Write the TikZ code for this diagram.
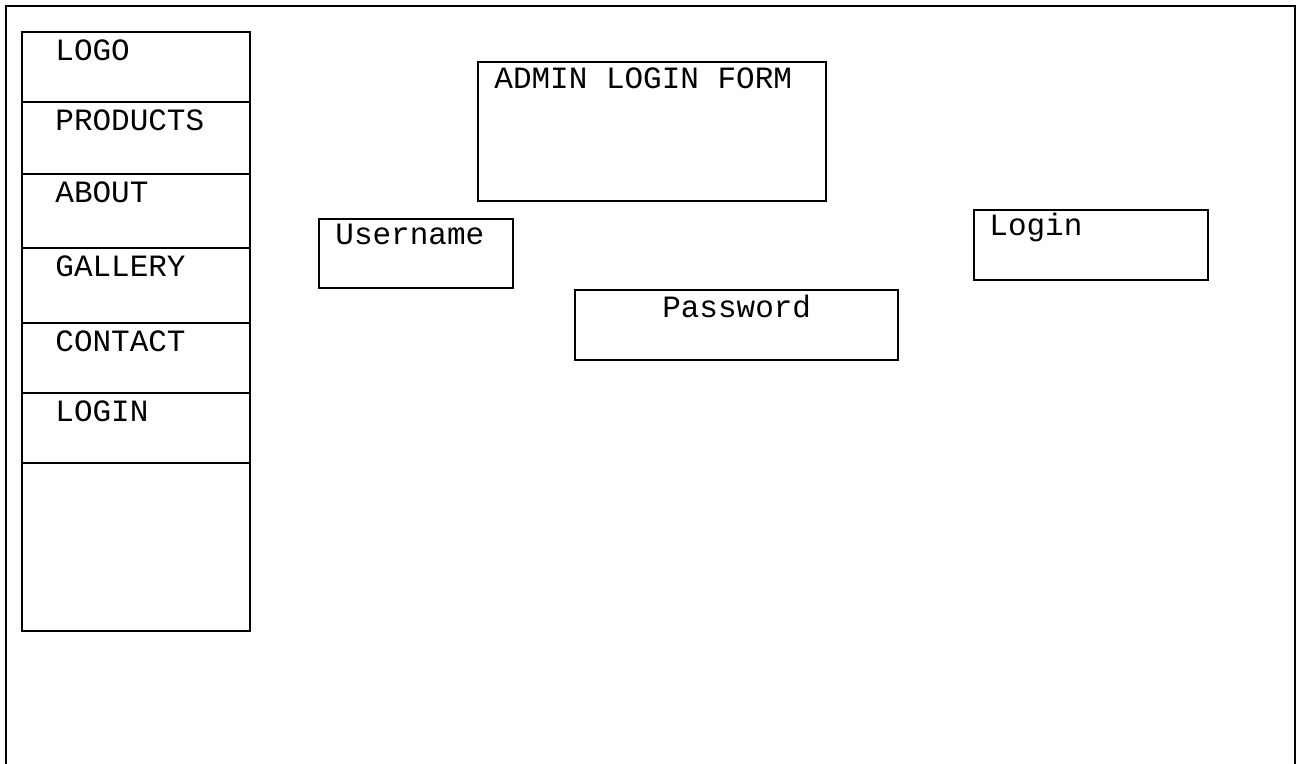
\documentclass[tikz,border=0pt]{standalone}
\usepackage{fontspec}
\setmainfont{Liberation Mono}
\usepackage{tikz}
\usetikzlibrary{positioning}

\begin{document}
\begin{tikzpicture}[
  x=0.5pt, y=-0.5pt,
  font=\fontsize{15.5}{18}\selectfont,
  frame/.style={line width=1.2pt},
  box/.style={draw, rectangle, anchor=north west, inner sep=0pt, line width=1.2pt},
  menu/.style={box, minimum width=114pt},
  lbl/.style={anchor=base west, inner sep=0pt}
]
\useasboundingbox (0,0) rectangle (1298,764);

% ── Outer page frame (open at the bottom) ──
\draw[frame] (6,764) -- (6,6) -- (1295,6) -- (1295,764);

% ── Left: navigation menu ──
\node[menu, minimum height=35pt]   (logo)     at (21,31)  {};
\node[menu, minimum height=36pt]   (products) at (21,101) {};
\node[menu, minimum height=37pt]   (about)    at (21,173) {};
\node[menu, minimum height=37.5pt] (gallery)  at (21,247) {};
\node[menu, minimum height=35pt]   (contact)  at (21,322) {};
\node[menu, minimum height=35pt]   (login)    at (21,392) {};
\node[menu, minimum height=84pt]   (blank)    at (21,462) {};

\node[lbl] at ([shift={(34,30)}]logo.north west)     {LOGO};
\node[lbl] at ([shift={(34,30)}]products.north west) {PRODUCTS};
\node[lbl] at ([shift={(34,30)}]about.north west)    {ABOUT};
\node[lbl] at ([shift={(34,30)}]gallery.north west)  {GALLERY};
\node[lbl] at ([shift={(34,30)}]contact.north west)  {CONTACT};
\node[lbl] at ([shift={(34,30)}]login.north west)    {LOGIN};

% ── Center: form title ──
\node[box, minimum width=174pt, minimum height=69.5pt] (form) at (477,61) {};
\node[lbl] at ([shift={(17,28)}]form.north west) {ADMIN LOGIN FORM};

% ── Form fields ──
\node[box, minimum width=97pt, minimum height=34.5pt] (user) at (318,218) {};
\node[lbl] at ([shift={(17,27)}]user.north west) {Username};

\node[box, minimum width=161.5pt, minimum height=35pt] (pass) at (574,289) {};
\node[anchor=base, inner sep=0pt] at ([shift={(0,29)}]pass.north) {Password};

% ── Right: login button ──
\node[box, minimum width=117pt, minimum height=35pt] (btn) at (973,209) {};
\node[lbl] at ([shift={(16,27)}]btn.north west) {Login};

\end{tikzpicture}
\end{document}
